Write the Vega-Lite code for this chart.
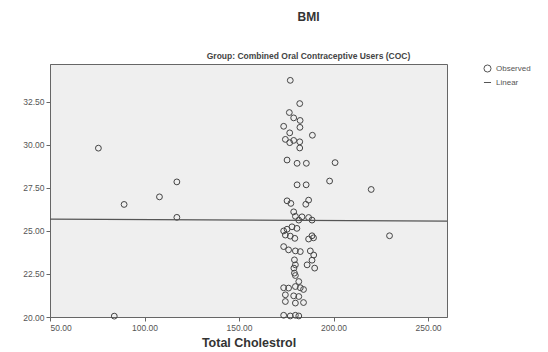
{
  "$schema": "https://vega.github.io/schema/vega-lite/v6.json",
  "width": 397,
  "height": 253,
  "autosize": {"type": "none"},
  "padding": {"left": 50, "top": 64, "right": 101, "bottom": 35},
  "background": "white",
  "config": {
    "font": "Liberation Sans",
    "view": {"fill": "#efefef", "stroke": "#666666", "strokeWidth": 1},
    "axis": {"grid": false, "domainColor": "#666666", "tickColor": "#666666", "tickSize": 4, "labelColor": "#555555", "labelFontSize": 8.5, "labelFont": "Liberation Sans"}
  },
  "title": {
    "text": "BMI",
    "subtitle": "Group: Combined Oral Contraceptive Users (COC)",
    "anchor": "middle",
    "dx": 60,
    "fontSize": 12,
    "fontWeight": "bold",
    "color": "#333333",
    "subtitleFontSize": 8.5,
    "subtitleFontWeight": "bold",
    "subtitleColor": "#444444",
    "subtitlePadding": 28,
    "offset": 3
  },
  "layer": [
    {
      "data": {"values": [
        {"chol": 75.6, "bmi": 29.81, "series": "Observed"},
        {"chol": 89.2, "bmi": 26.54, "series": "Observed"},
        {"chol": 107.9, "bmi": 26.98, "series": "Observed"},
        {"chol": 117.1, "bmi": 27.85, "series": "Observed"},
        {"chol": 117.1, "bmi": 25.79, "series": "Observed"},
        {"chol": 84.0, "bmi": 20.05, "series": "Observed"},
        {"chol": 200.8, "bmi": 28.97, "series": "Observed"},
        {"chol": 197.9, "bmi": 27.9, "series": "Observed"},
        {"chol": 219.9, "bmi": 27.41, "series": "Observed"},
        {"chol": 229.6, "bmi": 24.72, "series": "Observed"},
        {"chol": 177.1, "bmi": 33.75, "series": "Observed"},
        {"chol": 182.1, "bmi": 32.4, "series": "Observed"},
        {"chol": 176.6, "bmi": 31.88, "series": "Observed"},
        {"chol": 178.9, "bmi": 31.57, "series": "Observed"},
        {"chol": 182.3, "bmi": 31.42, "series": "Observed"},
        {"chol": 173.6, "bmi": 31.08, "series": "Observed"},
        {"chol": 182.2, "bmi": 31.02, "series": "Observed"},
        {"chol": 176.8, "bmi": 30.7, "series": "Observed"},
        {"chol": 188.8, "bmi": 30.56, "series": "Observed"},
        {"chol": 174.5, "bmi": 30.32, "series": "Observed"},
        {"chol": 178.9, "bmi": 30.26, "series": "Observed"},
        {"chol": 182.1, "bmi": 30.18, "series": "Observed"},
        {"chol": 176.8, "bmi": 30.13, "series": "Observed"},
        {"chol": 182.1, "bmi": 29.82, "series": "Observed"},
        {"chol": 175.4, "bmi": 29.12, "series": "Observed"},
        {"chol": 180.7, "bmi": 28.93, "series": "Observed"},
        {"chol": 185.6, "bmi": 28.93, "series": "Observed"},
        {"chol": 180.7, "bmi": 27.68, "series": "Observed"},
        {"chol": 185.5, "bmi": 27.68, "series": "Observed"},
        {"chol": 175.4, "bmi": 26.75, "series": "Observed"},
        {"chol": 177.4, "bmi": 26.6, "series": "Observed"},
        {"chol": 186.8, "bmi": 26.79, "series": "Observed"},
        {"chol": 185.3, "bmi": 26.55, "series": "Observed"},
        {"chol": 178.9, "bmi": 26.11, "series": "Observed"},
        {"chol": 179.8, "bmi": 25.85, "series": "Observed"},
        {"chol": 181.6, "bmi": 25.63, "series": "Observed"},
        {"chol": 183.3, "bmi": 25.82, "series": "Observed"},
        {"chol": 186.8, "bmi": 25.78, "series": "Observed"},
        {"chol": 188.6, "bmi": 25.63, "series": "Observed"},
        {"chol": 178.0, "bmi": 25.24, "series": "Observed"},
        {"chol": 180.6, "bmi": 25.15, "series": "Observed"},
        {"chol": 173.6, "bmi": 25.0, "series": "Observed"},
        {"chol": 175.4, "bmi": 25.1, "series": "Observed"},
        {"chol": 174.5, "bmi": 24.76, "series": "Observed"},
        {"chol": 177.1, "bmi": 24.7, "series": "Observed"},
        {"chol": 188.6, "bmi": 24.72, "series": "Observed"},
        {"chol": 179.5, "bmi": 24.57, "series": "Observed"},
        {"chol": 186.8, "bmi": 24.53, "series": "Observed"},
        {"chol": 189.4, "bmi": 24.6, "series": "Observed"},
        {"chol": 173.6, "bmi": 24.09, "series": "Observed"},
        {"chol": 176.2, "bmi": 23.9, "series": "Observed"},
        {"chol": 179.8, "bmi": 23.84, "series": "Observed"},
        {"chol": 182.4, "bmi": 23.8, "series": "Observed"},
        {"chol": 187.7, "bmi": 23.84, "series": "Observed"},
        {"chol": 189.5, "bmi": 23.6, "series": "Observed"},
        {"chol": 188.6, "bmi": 23.3, "series": "Observed"},
        {"chol": 179.3, "bmi": 23.32, "series": "Observed"},
        {"chol": 179.8, "bmi": 23.03, "series": "Observed"},
        {"chol": 179.0, "bmi": 22.84, "series": "Observed"},
        {"chol": 186.0, "bmi": 23.03, "series": "Observed"},
        {"chol": 190.0, "bmi": 22.84, "series": "Observed"},
        {"chol": 179.3, "bmi": 22.55, "series": "Observed"},
        {"chol": 179.8, "bmi": 22.41, "series": "Observed"},
        {"chol": 181.6, "bmi": 22.06, "series": "Observed"},
        {"chol": 173.6, "bmi": 21.7, "series": "Observed"},
        {"chol": 176.2, "bmi": 21.68, "series": "Observed"},
        {"chol": 179.8, "bmi": 21.77, "series": "Observed"},
        {"chol": 182.4, "bmi": 21.7, "series": "Observed"},
        {"chol": 184.1, "bmi": 21.6, "series": "Observed"},
        {"chol": 174.5, "bmi": 21.29, "series": "Observed"},
        {"chol": 178.9, "bmi": 21.23, "series": "Observed"},
        {"chol": 181.6, "bmi": 21.19, "series": "Observed"},
        {"chol": 174.5, "bmi": 20.9, "series": "Observed"},
        {"chol": 179.8, "bmi": 20.81, "series": "Observed"},
        {"chol": 184.1, "bmi": 20.84, "series": "Observed"},
        {"chol": 173.6, "bmi": 20.1, "series": "Observed"},
        {"chol": 177.1, "bmi": 20.06, "series": "Observed"},
        {"chol": 179.8, "bmi": 20.1, "series": "Observed"},
        {"chol": 181.6, "bmi": 20.06, "series": "Observed"}
      ]},
      "mark": {"type": "point", "filled": false, "strokeWidth": 1, "size": 34, "clip": false, "opacity": 1, "color": "#444444"},
      "encoding": {
        "x": {"field": "chol", "type": "quantitative", "scale": {"domain": [50, 260], "nice": false, "zero": false},
          "axis": {"values": [50, 100, 150, 200, 250], "format": ".2f", "title": "Total Cholestrol", "titleFontSize": 12.5, "titleFontWeight": "bold", "titleColor": "#333333", "titlePadding": 5}},
        "y": {"field": "bmi", "type": "quantitative", "scale": {"domain": [20, 34.7], "nice": false, "zero": false},
          "axis": {"values": [20, 22.5, 25, 27.5, 30, 32.5], "format": ".2f", "title": null}},
        "shape": {"field": "series", "type": "nominal",
          "scale": {"domain": ["Observed", "Linear"], "range": ["circle", "stroke"]},
          "legend": {"title": null, "orient": "none", "legendX": 433, "legendY": 0, "padding": 0, "labelFontSize": 8, "labelColor": "#555555", "symbolSize": 50, "symbolStrokeColor": "#555555", "symbolFillColor": "transparent", "symbolStrokeWidth": 1, "rowPadding": 3, "labelOffset": 4}}
      }
    },
    {
      "data": {"values": [
        {"chol": 50, "bmi": 25.69},
        {"chol": 260, "bmi": 25.57}
      ]},
      "mark": {"type": "line", "color": "#555555", "strokeWidth": 1.3},
      "encoding": {
        "x": {"field": "chol", "type": "quantitative"},
        "y": {"field": "bmi", "type": "quantitative"}
      }
    }
  ]
}
